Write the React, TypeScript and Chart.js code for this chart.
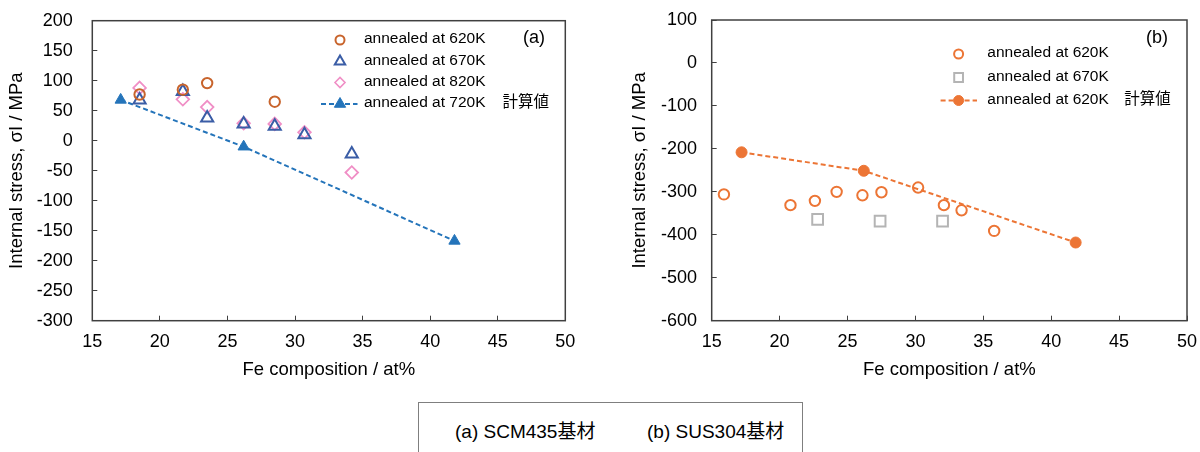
import React, { useEffect, useRef } from "react";
import { Chart, registerables } from "chart.js";

Chart.register(...registerables);

const FONT = '"Liberation Sans", Arial, "Noto Sans CJK JP", sans-serif';

// ---- shared axes ----
const xTicks = [15, 20, 25, 30, 35, 40, 45, 50];
const aYTicks = [-300, -250, -200, -150, -100, -50, 0, 50, 100, 150, 200];
const bYTicks = [-600, -500, -400, -300, -200, -100, 0, 100];
const xTitle = "Fe composition / at%";
const yTitle = "Internal stress, σI / MPa";

// ---- chart (a) SCM435 ----
const a620x = [18.5, 21.7, 23.5, 28.5];
const a620y = [77, 85, 96, 65];
const a670x = [18.5, 21.7, 23.5, 26.2, 28.5, 30.7, 34.2];
const a670y = [68, 82, 38, 28, 24, 10, -22];
const a820x = [18.5, 21.7, 23.5, 26.2, 28.5, 30.7, 34.2];
const a820y = [88, 69, 56, 29, 28, 14, -53];
const a720calcX = [17.1, 26.2, 41.8];
const a720calcY = [68, -10, -167];

// ---- chart (b) SUS304 ----
const b620x = [15.9, 20.8, 22.6, 24.2, 26.1, 27.5, 30.2, 32.1, 33.4, 35.8];
const b620y = [-306, -331, -321, -300, -308, -301, -290, -331, -343, -391];
const b670x = [22.8, 27.4, 32.0];
const b670y = [-364, -368, -368];
const b620calcX = [17.2, 26.2, 41.8];
const b620calcY = [-208, -251, -418];

// ---- labels ----
const aLabels = ["annealed at 620K", "annealed at 670K", "annealed at 820K", "annealed at 720K"];
const bLabels = ["annealed at 620K", "annealed at 670K", "annealed at 620K"];
const calcTag = "計算値";
const panelA = "(a)";
const panelB = "(b)";
const captions = ["(a) SCM435基材", "(b) SUS304基材"];

const COL = {
  a620: "#C8642C",
  a670: "#3A5DA6",
  a820: "#F08FC6",
  a720: "#2474BA",
  b620: "#EC7535",
  b670: "#B4B4B4",
  frame: "#404040",
};

const toPts = (xs: number[], ys: number[]) => xs.map((x, i) => ({ x, y: ys[i] }));

function drawShape(ctx: CanvasRenderingContext2D, shape: string, x: number, y: number, r: number, color: string, filled: boolean, lw: number) {
  ctx.beginPath();
  if (shape === "circle") {
    ctx.arc(x, y, r, 0, Math.PI * 2);
  } else if (shape === "triangle") {
    ctx.moveTo(x, y - r);
    ctx.lineTo(x + 0.866 * r, y + 0.5 * r);
    ctx.lineTo(x - 0.866 * r, y + 0.5 * r);
    ctx.closePath();
  } else if (shape === "rectRot") {
    ctx.moveTo(x - r, y);
    ctx.lineTo(x, y - r);
    ctx.lineTo(x + r, y);
    ctx.lineTo(x, y + r);
    ctx.closePath();
  } else if (shape === "rect") {
    const s = r * Math.SQRT1_2;
    ctx.rect(x - s, y - s, 2 * s, 2 * s);
  }
  if (filled) {
    ctx.fillStyle = color;
    ctx.fill();
  }
  ctx.lineWidth = lw;
  ctx.strokeStyle = color;
  ctx.stroke();
}

const framePlugin = {
  id: "frame",
  beforeDatasetsDraw(chart: any) {
    const { ctx, chartArea: a } = chart;
    ctx.save();
    ctx.strokeStyle = COL.frame;
    ctx.lineWidth = 1.5;
    ctx.strokeRect(a.left, a.top, a.right - a.left, a.bottom - a.top);
    ctx.restore();
  },
};

const annotPlugin = {
  id: "annot",
  afterDraw(chart: any, _args: any, o: any) {
    if (!o || !o.items) return;
    const ctx: CanvasRenderingContext2D = chart.ctx;
    ctx.save();
    o.items.forEach((it: any, i: number) => {
      const y = o.rows[i];
      if (it.line) {
        ctx.save();
        ctx.setLineDash([5, 3]);
        ctx.lineWidth = 2;
        ctx.strokeStyle = it.color;
        ctx.beginPath();
        ctx.moveTo(o.lineX1, y);
        ctx.lineTo(o.lineX2, y);
        ctx.stroke();
        ctx.restore();
      }
      ctx.setLineDash([]);
      drawShape(ctx, it.shape, o.markerX, y, it.r, it.color, it.filled, it.lw);
      ctx.font = `${o.fontSize}px ${FONT}`;
      ctx.textBaseline = "middle";
      ctx.textAlign = "left";
      ctx.fillStyle = "#000";
      ctx.fillText(it.label, o.textX, y - 1);
      if (it.extra) ctx.fillText(it.extra, o.extraX, y - 1);
    });
    ctx.font = `${o.panelSize}px ${FONT}`;
    ctx.textAlign = "center";
    ctx.textBaseline = "middle";
    ctx.fillStyle = "#000";
    ctx.fillText(o.panel, o.panelX, o.panelY);
    ctx.restore();
  },
};

const zeroPad = (s: any) => {
  s.paddingTop = 0;
  s.paddingBottom = 0;
  s.paddingLeft = 0;
  s.paddingRight = 0;
};

function scales(yMin: number, yMax: number, yTicks: number[], yWidth: number, yPad: number, yTitlePad: number) {
  const grid = { drawOnChartArea: false, drawTicks: true, tickLength: -5, color: COL.frame, lineWidth: 1 };
  return {
    x: {
      type: "linear",
      min: 15,
      max: 50,
      afterBuildTicks: (s: any) => {
        s.ticks = xTicks.map((v) => ({ value: v }));
      },
      afterFit: (s: any) => {
        s.height = 79.3;
        zeroPad(s);
      },
      grid,
      border: { display: false },
      ticks: { padding: 15.2, color: "#000", font: { family: FONT, size: 18 }, maxRotation: 0, autoSkip: false },
      title: { display: true, text: xTitle, color: "#000", font: { family: FONT, size: 18.5 }, padding: { top: 0, bottom: 18.9 } },
    },
    y: {
      type: "linear",
      min: yMin,
      max: yMax,
      afterBuildTicks: (s: any) => {
        s.ticks = yTicks.map((v) => ({ value: v }));
      },
      afterFit: (s: any) => {
        s.width = yWidth;
        zeroPad(s);
      },
      grid,
      border: { display: false },
      ticks: { padding: yPad, color: "#000", font: { family: FONT, size: 18 }, autoSkip: false },
      title: { display: true, text: yTitle, color: "#000", font: { family: FONT, size: 18.5 }, padding: { top: yTitlePad, bottom: 0 } },
    },
  };
}

function ChartA() {
  const ref = useRef<HTMLCanvasElement>(null);
  useEffect(() => {
    if (!ref.current) return;
    const chart = new Chart(ref.current, {
      type: "scatter",
      data: {
        datasets: [
          { label: aLabels[0], data: toPts(a620x, a620y), pointStyle: "circle", pointRadius: 5.2, pointBorderWidth: 2, pointBorderColor: COL.a620, pointBackgroundColor: "rgba(0,0,0,0)", showLine: false },
          { label: aLabels[1], data: toPts(a670x, a670y), pointStyle: "triangle", pointRadius: 7, pointBorderWidth: 2, pointBorderColor: COL.a670, pointBackgroundColor: "rgba(0,0,0,0)", showLine: false },
          { label: aLabels[2], data: toPts(a820x, a820y), pointStyle: "rectRot", pointRadius: 6.3, pointBorderWidth: 1.8, pointBorderColor: COL.a820, pointBackgroundColor: "rgba(0,0,0,0)", showLine: false },
          { label: aLabels[3], data: toPts(a720calcX, a720calcY), showLine: true, borderColor: COL.a720, borderWidth: 2, borderDash: [5, 3], pointStyle: "triangle", pointRadius: 6.5, pointBorderWidth: 1, pointBorderColor: COL.a720, pointBackgroundColor: COL.a720 },
        ],
      } as any,
      options: {
        animation: false,
        responsive: false,
        events: [],
        layout: { padding: { left: 0, top: 20.7, right: 34.7, bottom: 0 } },
        scales: scales(-300, 200, aYTicks, 92.3, 24.5, 6.1) as any,
        plugins: {
          legend: { display: false },
          tooltip: { enabled: false },
          annot: {
            items: [
              { label: aLabels[0], shape: "circle", r: 4.5, color: COL.a620, filled: false, lw: 2 },
              { label: aLabels[1], shape: "triangle", r: 6, color: COL.a670, filled: false, lw: 2 },
              { label: aLabels[2], shape: "rectRot", r: 5, color: COL.a820, filled: false, lw: 1.6 },
              { label: aLabels[3], extra: calcTag, shape: "triangle", r: 6.5, color: COL.a720, filled: true, lw: 1, line: true },
            ],
            rows: [40, 61.5, 82.5, 104],
            markerX: 340,
            textX: 364,
            extraX: 502.5,
            lineX1: 321,
            lineX2: 357.5,
            fontSize: 15.5,
            panel: panelA,
            panelX: 534,
            panelY: 38,
            panelSize: 18,
          },
        } as any,
      },
      plugins: [framePlugin, annotPlugin],
    });
    return () => chart.destroy();
  }, []);
  return <canvas ref={ref} width={600} height={400} style={{ position: "absolute", left: 0, top: 0, width: 600, height: 400 }} />;
}

function ChartB() {
  const ref = useRef<HTMLCanvasElement>(null);
  useEffect(() => {
    if (!ref.current) return;
    const chart = new Chart(ref.current, {
      type: "scatter",
      data: {
        datasets: [
          { label: bLabels[0], data: toPts(b620x, b620y), pointStyle: "circle", pointRadius: 5.2, pointBorderWidth: 2, pointBorderColor: COL.b620, pointBackgroundColor: "rgba(0,0,0,0)", showLine: false },
          { label: bLabels[1], data: toPts(b670x, b670y), pointStyle: "rect", pointRadius: 7.6, pointBorderWidth: 2, pointBorderColor: COL.b670, pointBackgroundColor: "rgba(0,0,0,0)", showLine: false },
          { label: bLabels[2], data: toPts(b620calcX, b620calcY), showLine: true, borderColor: COL.b620, borderWidth: 2, borderDash: [5, 3], pointStyle: "circle", pointRadius: 5.5, pointBorderWidth: 1, pointBorderColor: COL.b620, pointBackgroundColor: COL.b620 },
        ],
      } as any,
      options: {
        animation: false,
        responsive: false,
        events: [],
        layout: { padding: { left: 0, top: 20, right: 13, bottom: 0 } },
        scales: scales(-600, 100, bYTicks, 111.7, 19.7, 28.5) as any,
        plugins: {
          legend: { display: false },
          tooltip: { enabled: false },
          annot: {
            items: [
              { label: bLabels[0], shape: "circle", r: 4.5, color: COL.b620, filled: false, lw: 2 },
              { label: bLabels[1], shape: "rect", r: 6.2, color: COL.b670, filled: false, lw: 2 },
              { label: bLabels[2], extra: calcTag, shape: "circle", r: 5, color: COL.b620, filled: true, lw: 1, line: true },
            ],
            rows: [54, 77.5, 100.5],
            markerX: 358.6,
            textX: 387.3,
            extraX: 524.3,
            lineX1: 340.6,
            lineX2: 377,
            fontSize: 15.5,
            panel: panelB,
            panelX: 557,
            panelY: 38,
            panelSize: 18,
          },
        } as any,
      },
      plugins: [framePlugin, annotPlugin],
    });
    return () => chart.destroy();
  }, []);
  return <canvas ref={ref} width={600} height={400} style={{ position: "absolute", left: 600, top: 0, width: 600, height: 400 }} />;
}

export default function App() {
  return (
    <div style={{ position: "fixed", left: 0, top: 0, width: 1200, height: 452, overflow: "hidden", background: "#fff", fontFamily: FONT }}>
      <ChartA />
      <ChartB />
      <div style={{ position: "absolute", left: 418, top: 402, width: 385, height: 80, border: "1px solid #7f7f7f", boxSizing: "border-box" }}>
        <span style={{ position: "absolute", left: 36, top: 19, fontSize: 19, lineHeight: "20px", color: "#000", whiteSpace: "nowrap" }}>{captions[0]}</span>
        <span style={{ position: "absolute", left: 228, top: 19, fontSize: 19, lineHeight: "20px", color: "#000", whiteSpace: "nowrap" }}>{captions[1]}</span>
      </div>
    </div>
  );
}
